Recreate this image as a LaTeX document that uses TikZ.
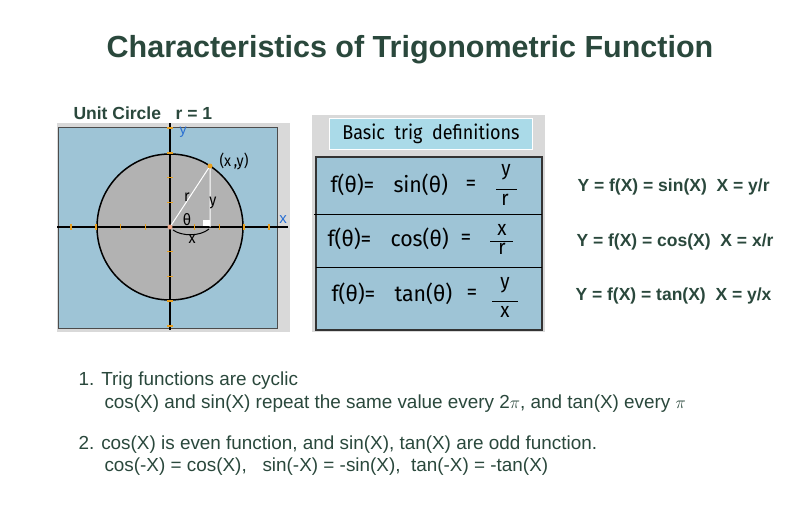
\documentclass[tikz,border=0pt]{standalone}
\usepackage{fontspec}
\setmainfont{Liberation Sans}
\newfontfamily\deffont[FakeStretch=0.9]{Fira Sans}
\newfontfamily\rowfont[FakeStretch=0.97]{Fira Sans}
\definecolor{titlegreen}{RGB}{42,72,60}
\definecolor{panelgray}{RGB}{217,217,217}
\definecolor{panelblue}{RGB}{158,196,214}
\definecolor{headblue}{RGB}{170,218,232}
\definecolor{circgray}{RGB}{178,178,178}
\definecolor{tickorange}{RGB}{232,160,32}
\definecolor{originpink}{RGB}{240,170,140}
\definecolor{axisblue}{RGB}{40,110,210}

\begin{document}
\begin{tikzpicture}[x=1pt,y=-1pt,line width=1pt,
  orangetick/.style={tickorange,line width=1.5pt},
  circlabel/.style={inner sep=0pt,font=\deffont\fontsize{16}{18}\selectfont},
  deftext/.style={anchor=west,inner sep=0pt,font=\rowfont\fontsize{22}{24}\selectfont},
  fracpart/.style={inner sep=0pt,font=\deffont\fontsize{21}{23}\selectfont},
  sidetext/.style={anchor=west,inner sep=0pt,text=titlegreen,font=\bfseries\fontsize{17.5}{20}\selectfont},
  notetext/.style={anchor=west,inner sep=0pt,text=titlegreen,font=\fontsize{18.9}{22}\selectfont}]
\fill[white] (0,0) rectangle (799,525);
\useasboundingbox (0,0) rectangle (799,525);

% title
\node[text=titlegreen,font=\bfseries\fontsize{30.5}{36}\selectfont] (title) at (410,50) {Characteristics of Trigonometric Function};

% unit circle
\node[anchor=west,inner sep=0pt,text=titlegreen,font=\bfseries\fontsize{17.5}{19}\selectfont] (unitlbl) at (73,113) {Unit Circle\ \ \ r = 1};
\fill[panelgray] (57,123) rectangle (290,332);
\draw[fill=panelblue,draw=black!70] (58,127) rectangle (277,328);
\draw[fill=circgray,line width=1.5pt] (170,227) circle (73);
\draw[line width=1.5pt] (57,227) -- (288,227);
\draw[line width=1.5pt] (170,123) -- (170,330);
\foreach \k in {-4,-3,-2,-1,1,2,3,4} {
  \draw[orangetick] ({170+24.7*\k},224) -- ++(0,6);
  \draw[orangetick] (167,{227+24.7*\k}) -- ++(6,0);
}
\coordinate (origin) at (170,227);
\coordinate (pt) at (210,166);
\coordinate (foot) at (210,227);
\draw[white] (origin) -- (pt) -- (foot);
\fill[white] (203,220) rectangle (209.5,226);
\draw (173,230) .. controls (182,236.5) and (200,236.5) .. (209,229);
\fill[tickorange] (pt) circle (2.5);
\fill[originpink] (origin) circle (2.5);
\node[circlabel] (ptlbl) at (234,161) {(x\,,y)};
\node[circlabel] (rlbl) at (187,197) {r};
\node[circlabel] (ylbl) at (213,203) {y};
\node[circlabel] (thlbl) at (187,220) {θ};
\node[circlabel] (xlbl) at (192,239) {x};
\node[circlabel,text=axisblue,font=\fontsize{15}{16}\selectfont] (xaxis) at (283,220) {x};
\node[circlabel,text=axisblue,font=\fontsize{14}{15}\selectfont] (yaxis) at (183,132) {y};

% definitions
\fill[panelgray] (312,115) rectangle (545,332);
\draw[fill=headblue,draw=white] (329.5,118.5) rectangle (532.5,149);
\node[inner sep=0pt,font=\deffont\fontsize{20}{22}\selectfont,
  text width=183pt,align=flush center] (defhead) at (431,134) {Basic\ \ trig\ \ definitions};
\draw[fill=panelblue,draw=black!80,line width=1.2pt] (316,157) rectangle (542,330);
\draw (314,214) -- (542,214);
\draw (316,267) -- (542,267);

\node[deftext] (sinf) at (330,185) {f(θ)=};
\node[deftext] (sinname) at (393,185) {sin(θ)};
\node[deftext] (sineq) at (465,185) {=};
\node[fracpart] (sinnum) at (506,172) {y};
\draw (496,189) -- (517,189);
\node[fracpart] (sinden) at (505,200) {r};

\node[deftext] (cosf) at (327,239) {f(θ)=};
\node[deftext] (cosname) at (390,239) {cos(θ)};
\node[deftext] (coseq) at (460,239) {=};
\node[fracpart] (cosnum) at (502,230) {x};
\draw (490,241) -- (513,241);
\node[fracpart] (cosden) at (502,249) {r};

\node[deftext] (tanf) at (331,294) {f(θ)=};
\node[deftext] (tanname) at (394,294) {tan(θ)};
\node[deftext] (taneq) at (466,294) {=};
\node[fracpart] (tannum) at (505,285) {y};
\draw (492,301) -- (518,301);
\node[fracpart] (tanden) at (505,312) {x};

% right side
\node[sidetext] (sinside) at (577,187) {Y = f(X) = sin(X)\ \ X = y/r};
\node[sidetext] (cosside) at (576,242) {Y = f(X) = cos(X)\ \ X = x/r};
\node[sidetext] (tanside) at (575,296) {Y = f(X) = tan(X)\ \ X = y/x};

% notes
\node[notetext] (note1) at (78,381) {1. Trig functions are cyclic};
\node[notetext] (note1b) at (104,404) {cos(X) and sin(X) repeat the same value every 2$\pi$, and tan(X) every $\pi$};
\node[notetext] (note2) at (78,445) {2. cos(X) is even function, and sin(X), tan(X) are odd function.};
\node[notetext] (note2b) at (104,467) {cos(-X) = cos(X),\ \ \ sin(-X) = -sin(X),\ \ tan(-X) = -tan(X)};
\end{tikzpicture}
\end{document}
